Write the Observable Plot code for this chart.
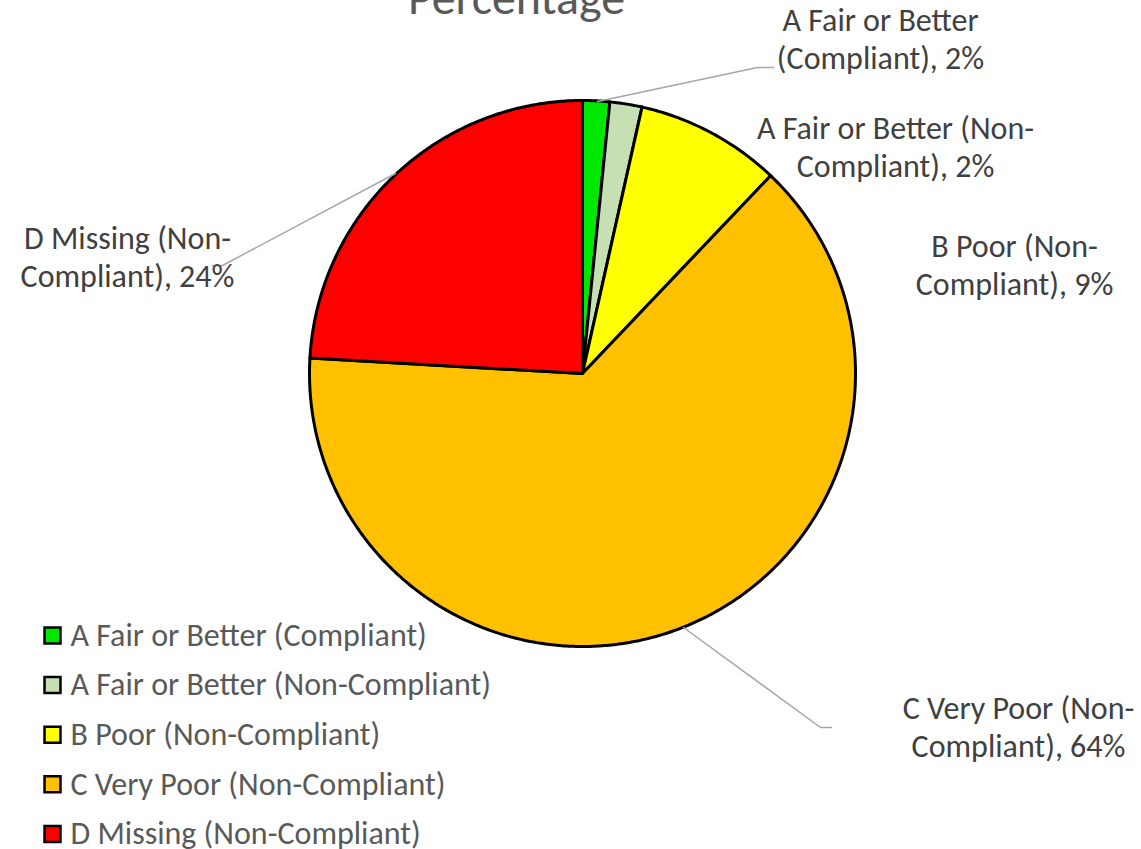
<!DOCTYPE html>
<html><head><meta charset="utf-8">
<script src="https://cdn.jsdelivr.net/npm/d3@7"></script>
<script src="https://cdn.jsdelivr.net/npm/@observablehq/plot@0.6"></script>
<style>body{margin:0;background:#fff;} svg{display:block}</style>
</head><body><div id="chart"></div>
<script>
// ---- data ----
const titleText = "Percentage";
const categories = [
  "A Fair or Better (Compliant)",
  "A Fair or Better (Non-Compliant)",
  "B Poor (Non-Compliant)",
  "C Very Poor (Non-Compliant)",
  "D Missing (Non-Compliant)"
];
const values = [1.6, 1.9, 8.6, 63.8, 24.1];
const colors = ["#00E800", "#C6E0B4", "#FFFF00", "#FFC000", "#FF0000"];
// how each data label is broken into two lines (text only)
const labelLines = [
  ["A Fair or Better", "(Compliant)"],
  ["A Fair or Better (Non-", "Compliant)"],
  ["B Poor (Non-", "Compliant)"],
  ["C Very Poor (Non-", "Compliant)"],
  ["D Missing (Non-", "Compliant)"]
];

// ---- layout (pixels) ----
const W = 1141, H = 849, CX = 582, CY = 373, R = 273;
const ux = px => (px - CX) / R;
const uy = py => (CY - py) / R;
const labelAt = [[880, 37], [895, 145], [1014, 263], [1018, 725], [127, 255]];
const leaders = {
  0: [[597, 101], [757, 67], [773, 67]],
  3: [[683, 627], [820, 727], [831, 727]],
  4: [[395, 173], [222, 265], [212, 265]]
};
const FONT = "Carlito, Calibri, Lato, sans-serif";

// ---- pie geometry from values ----
const total = d3.sum(values);
const slices = [];
let acc = 0;
categories.forEach((name, i) => {
  const a0 = acc / total * 2 * Math.PI;
  acc += values[i];
  const a1 = acc / total * 2 * Math.PI;
  const pts = [{name, x: 0, y: 0}];
  const n = Math.max(2, Math.ceil((a1 - a0) / (Math.PI / 360)));
  for (let k = 0; k <= n; k++) {
    const t = a0 + (a1 - a0) * k / n;
    pts.push({name, x: Math.sin(t), y: Math.cos(t)});
  }
  pts.push({name, x: 0, y: 0});
  slices.push(...pts);
});

const labels = categories.map((name, i) => ({
  name,
  text: labelLines[i][0] + "\n" + labelLines[i][1] + ", " + Math.round(values[i]) + "%",
  x: ux(labelAt[i][0]), y: uy(labelAt[i][1])
}));
const leaderPts = [];
Object.entries(leaders).forEach(([i, pts]) => pts.forEach(p => leaderPts.push({k: +i, x: ux(p[0]), y: uy(p[1])})));

const legendRows = categories.map((name, i) => ({name, y: uy(635 + i * 49.6)}));

const chart = Plot.plot({
  width: W, height: H,
  marginTop: 0, marginRight: 0, marginBottom: 0, marginLeft: 0,
  x: {domain: [ux(0), ux(W)], axis: null},
  y: {domain: [uy(H), uy(0)], axis: null},
  color: {domain: categories, range: colors},
  style: {fontFamily: FONT, background: "#fff"},
  marks: [
    Plot.line(slices, {x: "x", y: "y", z: "name", fill: "name", stroke: "black", strokeWidth: 3, strokeLinejoin: "round"}),
    Plot.line(leaderPts, {x: "x", y: "y", z: "k", stroke: "#A6A6A6", strokeWidth: 1.5}),
    Plot.text(labels, {x: "x", y: "y", text: "text", fill: "#404040", fontSize: 32, lineHeight: 1.19, textAnchor: "middle", lineAnchor: "middle"}),
    Plot.text([titleText], {x: ux(516), y: uy(13), text: d => d, fill: "#595959", fontSize: 48, textAnchor: "middle", lineAnchor: "bottom"}),
    Plot.dot(legendRows, {x: ux(52), y: "y", symbol: "square", r: 9, fill: "name", stroke: "black", strokeWidth: 2.5}),
    Plot.text(legendRows, {x: ux(70), y: "y", text: "name", fill: "#595959", fontSize: 32, textAnchor: "start", lineAnchor: "middle"})
  ]
});
document.getElementById("chart").append(chart);
</script>
</body></html>
